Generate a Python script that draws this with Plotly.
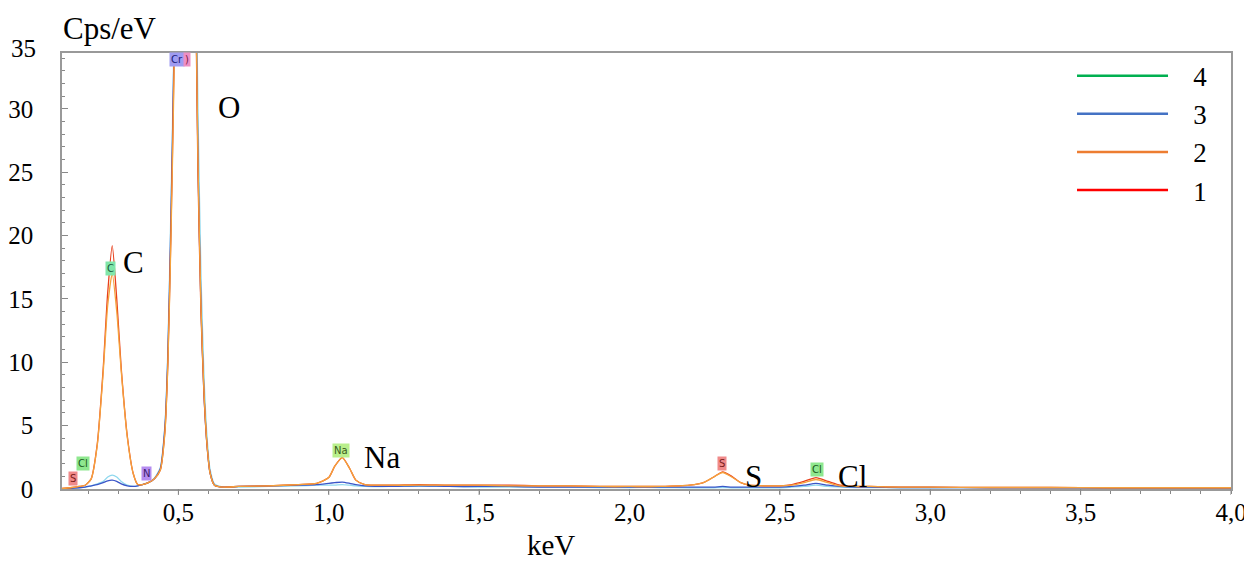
import plotly.graph_objects as go

# EDS spectrum (keV vs Cps/eV)
energy = [0.113, 0.14, 0.17, 0.19, 0.21, 0.23, 0.25, 0.265, 0.28, 0.295,
          0.31, 0.33, 0.35, 0.365, 0.38, 0.40, 0.42, 0.44, 0.455, 0.465,
          0.475, 0.485, 0.495, 0.51, 0.525, 0.54, 0.555, 0.565, 0.575, 0.585,
          0.595, 0.605, 0.62, 0.65, 0.70, 0.80, 0.90, 0.96, 1.00, 1.02,
          1.045, 1.07, 1.09, 1.12, 1.20, 1.30, 1.40, 1.50, 1.60, 1.70,
          1.80, 1.90, 2.00, 2.10, 2.20, 2.25, 2.28, 2.31, 2.34, 2.37,
          2.40, 2.45, 2.50, 2.54, 2.58, 2.62, 2.66, 2.70, 2.75, 2.80,
          2.90, 3.00, 3.20, 3.40, 3.60, 3.80, 4.00]

cps_1 = [0.05, 0.1, 0.2, 0.3, 0.8, 3.5, 9.5, 15.5, 19.2, 15.0,
         9.5, 4.2, 1.2, 0.35, 0.35, 0.5, 0.8, 1.5, 4.5, 10.0,
         20.0, 33.0, 55.0, 90.0, 110.0, 85.0, 45.0, 25.0, 14.0, 7.5,
         3.5, 1.3, 0.3, 0.15, 0.2, 0.25, 0.35, 0.45, 0.9, 1.8,
         2.5, 1.6, 0.7, 0.35, 0.3, 0.35, 0.3, 0.3, 0.3, 0.25,
         0.25, 0.2, 0.2, 0.2, 0.3, 0.55, 0.95, 1.35, 1.0, 0.5,
         0.3, 0.25, 0.25, 0.35, 0.6, 0.9, 0.6, 0.3, 0.2, 0.2,
         0.15, 0.15, 0.12, 0.12, 0.1, 0.1, 0.1]

cps_2 = [0.05, 0.1, 0.2, 0.3, 0.8, 3.4, 9.2, 14.5, 17.0, 14.0,
         9.3, 4.1, 1.2, 0.35, 0.35, 0.5, 0.8, 1.5, 4.4, 9.8,
         19.5, 32.0, 54.0, 88.0, 108.0, 84.0, 46.0, 26.0, 14.5, 7.8,
         3.6, 1.3, 0.3, 0.15, 0.2, 0.25, 0.35, 0.45, 0.9, 1.8,
         2.45, 1.6, 0.7, 0.35, 0.3, 0.3, 0.3, 0.3, 0.25, 0.25,
         0.25, 0.2, 0.2, 0.2, 0.3, 0.55, 0.95, 1.3, 0.95, 0.5,
         0.3, 0.25, 0.25, 0.3, 0.5, 0.75, 0.5, 0.25, 0.2, 0.2,
         0.15, 0.15, 0.12, 0.12, 0.1, 0.1, 0.1]

cps_3 = [0.0, 0.05, 0.1, 0.15, 0.25, 0.35, 0.5, 0.65, 0.7, 0.6,
         0.4, 0.25, 0.2, 0.25, 0.35, 0.5, 0.8, 1.6, 4.8, 10.5,
         21.0, 34.0, 56.0, 90.0, 110.0, 85.0, 46.0, 26.0, 14.5, 7.5,
         3.5, 1.3, 0.3, 0.15, 0.2, 0.25, 0.3, 0.35, 0.45, 0.5,
         0.55, 0.45, 0.35, 0.25, 0.2, 0.25, 0.2, 0.2, 0.2, 0.15,
         0.15, 0.15, 0.15, 0.15, 0.15, 0.15, 0.15, 0.2, 0.15, 0.15,
         0.15, 0.15, 0.15, 0.2, 0.3, 0.45, 0.3, 0.2, 0.15, 0.15,
         0.12, 0.12, 0.1, 0.1, 0.08, 0.08, 0.08]

cps_4 = [0.0, 0.05, 0.1, 0.15, 0.25, 0.4, 0.6, 0.95, 1.1, 0.95,
         0.6, 0.3, 0.2, 0.25, 0.35, 0.5, 0.85, 1.7, 5.0, 11.0,
         22.0, 35.0, 57.0, 92.0, 112.0, 88.0, 50.0, 30.0, 17.0, 9.0,
         4.2, 1.6, 0.4, 0.15, 0.15, 0.2, 0.25, 0.3, 0.3, 0.3,
         0.35, 0.3, 0.25, 0.2, 0.2, 0.2, 0.2, 0.15, 0.15, 0.15,
         0.15, 0.12, 0.12, 0.12, 0.1, 0.1, 0.1, 0.12, 0.1, 0.1,
         0.1, 0.1, 0.1, 0.15, 0.2, 0.3, 0.2, 0.15, 0.12, 0.12,
         0.1, 0.1, 0.1, 0.08, 0.08, 0.08, 0.08]

series_names = ["1", "2", "3", "4"]
series_values = [cps_1, cps_2, cps_3, cps_4]
curve_colors = ["#e8401c", "#f5a23c", "#3a55c8", "#8fd8ee"]
legend_colors = ["#ff0000", "#ed7d31", "#4472c4", "#00b050"]

x_ticks = [0.5, 1.0, 1.5, 2.0, 2.5, 3.0, 3.5, 4.0]

# element markers: small coloured tags and big labels
tag_text = ["S", "Cl", "C", "N", "Cr", ")", "Na", "S", "Cl"]
tag_x = [0.149, 0.182, 0.275, 0.395, 0.497, 0.528, 1.04, 2.306, 2.622]
tag_y = [0.8, 2.05, 17.4, 1.26, 33.9, 33.9, 3.0, 2.05, 1.5]
tag_bg = ["#f08a8a", "#8fe88f", "#80e6aa", "#b58cf0", "#9f9cf2", "#ee8fc4",
          "#b9ef8c", "#f08a8a", "#8fe88f"]
tag_fg = ["#7a1c1c", "#1c5a1c", "#1c5a3a", "#3c1c6a", "#1c1c7a", "#7a1c4a",
          "#3a5a1c", "#7a1c1c", "#1c5a1c"]

element_text = ["C", "O", "Na", "S", "Cl"]
element_x = [0.352, 0.667, 1.176, 2.412, 2.741]
element_y = [17.9, 30.1, 2.45, 0.95, 0.95]

serif = "Liberation Serif"

fig = go.Figure()

# curves (drawn back to front), legend handled by empty entries below
for i in [3, 2, 0, 1]:
    fig.add_trace(go.Scatter(
        x=energy, y=series_values[i],
        mode="lines",
        line=dict(color=curve_colors[i], width=1.3, shape="spline", smoothing=0.6),
        showlegend=False,
        hoverinfo="skip",
    ))

for i in [3, 2, 1, 0]:
    fig.add_trace(go.Scatter(
        x=[None], y=[None], mode="lines", name="\u00a0\u00a0\u00a0" + series_names[i],
        line=dict(color=legend_colors[i], width=2.5),
    ))

for t, x, y, bg, fg in zip(tag_text, tag_x, tag_y, tag_bg, tag_fg):
    fig.add_annotation(x=x, y=y, text=t, showarrow=False, bgcolor=bg,
                       borderpad=1, font=dict(family="DejaVu Sans", size=10, color=fg))

for t, x, y in zip(element_text, element_x, element_y):
    fig.add_annotation(x=x, y=y, text=t, showarrow=False,
                       font=dict(family=serif, size=31, color="black"))

# longer major ticks below the x axis (labels sit closer than plotly's own ticks allow)
for v in x_ticks:
    fig.add_shape(type="line", xref="x", yref="paper", x0=v, x1=v, y0=0, y1=-6 / 436,
                  line=dict(color="#888", width=1))

# axis titles and the top tick label
fig.add_annotation(xref="paper", yref="paper", x=-0.001, y=1.0, yshift=25,
                   xanchor="left", yanchor="middle", text="Cps/eV", showarrow=False,
                   font=dict(family=serif, size=31, color="black"))
fig.add_annotation(xref="paper", yref="paper", x=0.418, y=0, yshift=-56,
                   xanchor="center", yanchor="middle", text="keV", showarrow=False,
                   font=dict(family=serif, size=29, color="black"))
fig.add_annotation(xref="paper", yref="paper", x=-0.0205, y=1.0, yshift=5,
                   xanchor="right", yanchor="middle", text="35", showarrow=False,
                   font=dict(family=serif, size=25, color="black"))

# the page body keeps an 8px margin, so the figure is 8px smaller
fig.update_layout(
    width=1244, height=553,
    margin=dict(l=54, r=21, t=45, b=72),
    plot_bgcolor="white", paper_bgcolor="white",
    separators=", ",
    showlegend=True,
    legend=dict(x=0.864, y=1.003, xanchor="left", yanchor="top",
                itemwidth=91, font=dict(family=serif, size=27, color="black"),
                bgcolor="rgba(0,0,0,0)", tracegroupgap=0),
    xaxis=dict(range=[0.113, 4.0], tickvals=x_ticks,
               tickformat=".1f", ticks="", ticklabelstandoff=0,
               showline=True, linecolor="#999", linewidth=1.5, mirror=True,
               showgrid=False, zeroline=False, automargin=False,
               minor=dict(dtick=0.1, ticks="outside", ticklen=3, tickcolor="#888"),
               tickfont=dict(family=serif, size=25, color="black")),
    yaxis=dict(range=[0, 34.4], dtick=5, ticks="inside", ticklen=6, tickcolor="#888",
               showline=True, linecolor="#999", linewidth=1.5, mirror=True,
               showgrid=False, zeroline=False, automargin=False, ticklabelstandoff=22,
               minor=dict(dtick=1, ticks="inside", ticklen=3, tickcolor="#888"),
               tickfont=dict(family=serif, size=25, color="black")),
)

fig.write_html("out.html")
